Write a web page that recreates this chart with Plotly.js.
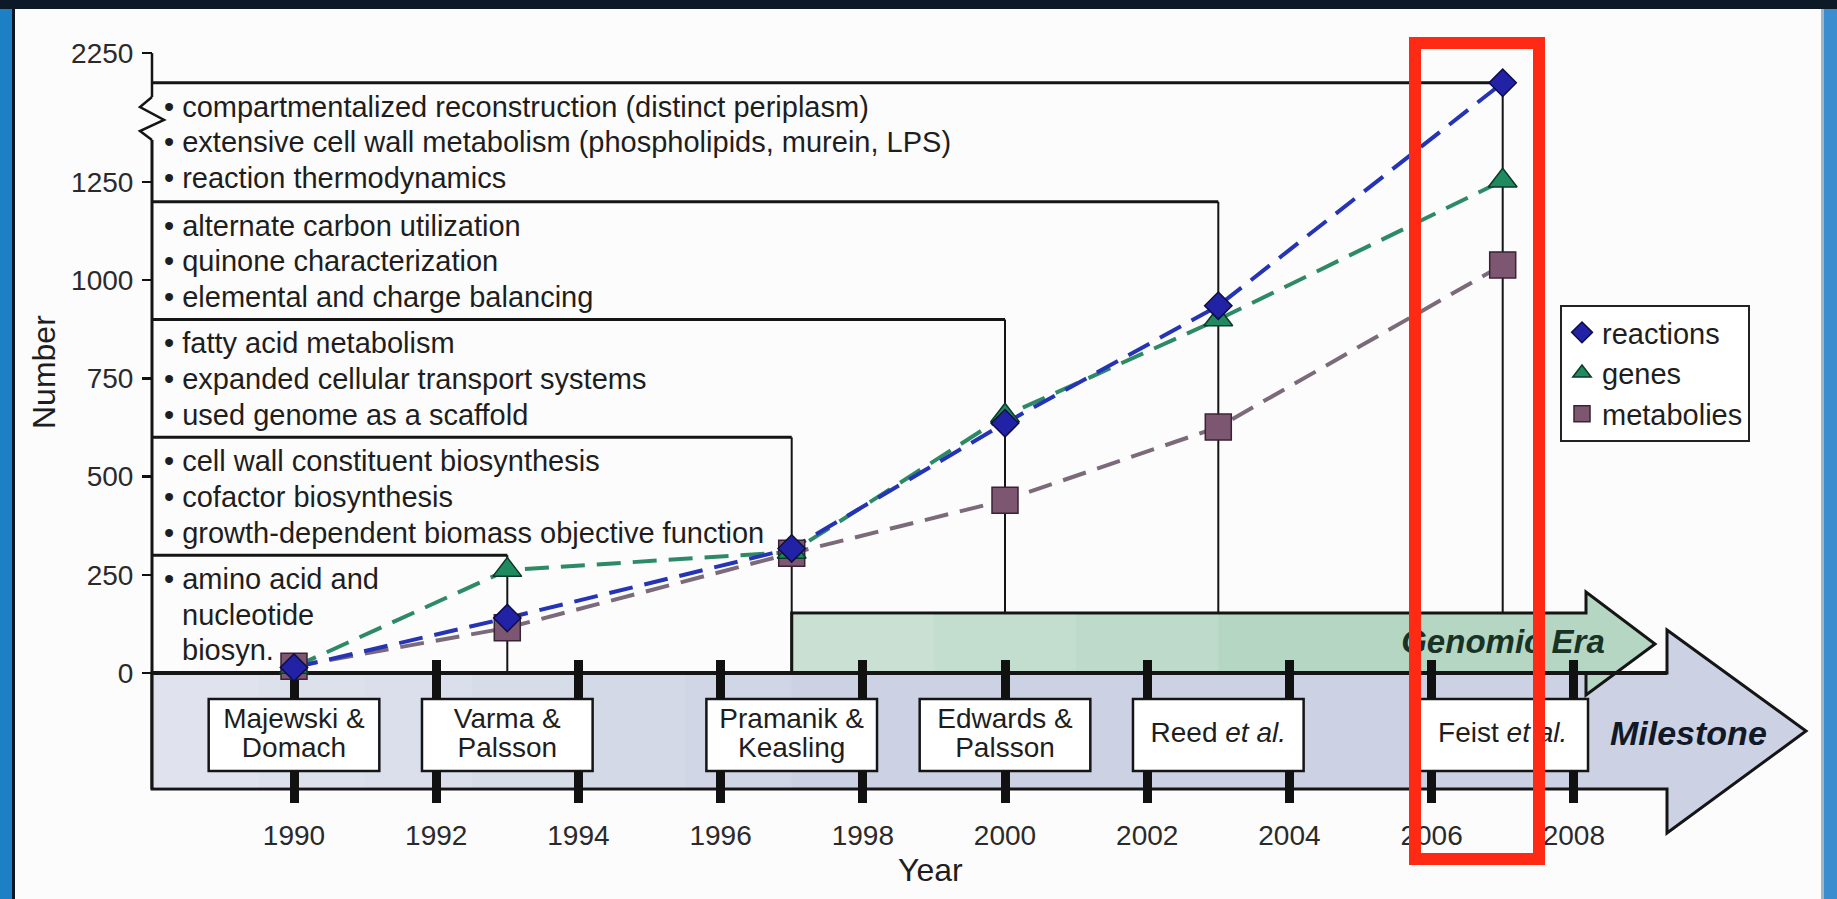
<!DOCTYPE html>
<html>
<head>
<meta charset="utf-8">
<script src="https://cdn.plot.ly/plotly-3.0.1.min.js"></script>
<style>html,body{margin:0;padding:0;background:#fcfcfc;overflow:hidden}</style>
</head>
<body>
<div id="chart" style="width:1837px;height:899px"></div>
<script>
// ---------------- data ----------------
const years = [1990, 1993, 1997, 2000, 2003, 2007];
const reactions = [14, 140, 317, 636, 935, 2020];
const genes = [15, 262, 308, 655, 900, 1260];
const metabolites = [17, 115, 305, 440, 626, 1039];
const seriesNames = ['reactions', 'genes', 'metabolies'];

const milestoneLine1 = ['Majewski &', 'Varma &', 'Pramanik &', 'Edwards &', 'Reed <i>et al.</i>', 'Feist <i>et al.</i>'];
const milestoneLine2 = ['Domach', 'Palsson', 'Keasling', 'Palsson', '', ''];

const yTickValues = [0, 250, 500, 750, 1000, 1250, 2250];
const yearTicks = [1990, 1992, 1994, 1996, 1998, 2000, 2002, 2004, 2006, 2008];

// feature boxes, bottom (oldest) to top (newest)
const features1 = ['amino acid and', 'nucleotide', 'biosyn.'];
const bullets1 = [true, false, false];
const features2 = ['cell wall constituent biosynthesis', 'cofactor biosynthesis', 'growth-dependent biomass objective function'];
const features3 = ['fatty acid metabolism', 'expanded cellular transport systems', 'used genome as a scaffold'];
const features4 = ['alternate carbon utilization', 'quinone characterization', 'elemental and charge balancing'];
const features5 = ['compartmentalized reconstruction (distinct periplasm)', 'extensive cell wall metabolism (phospholipids, murein, LPS)', 'reaction thermodynamics'];
const boxEnds = [1993, 1997, 2000, 2003, 2007];
const boxTops = [300, 600, 900, 1200, reactions[5]];
const genomicStart = 1997;

// ---------------- scale helpers ----------------
const W = 1837, H = 899;
const X_PX_1990 = 294, PX_PER_YEAR = 71.1, Y_PX_ZERO = 673, PX_PER_UNIT = 0.3928;
const BREAK = 1250, COMPRESS = 0.328;          // broken y axis above 1250
const brk = v => v <= BREAK ? v : BREAK + (v - BREAK) * COMPRESS;
const px2x = px => 1990 + (px - X_PX_1990) / PX_PER_YEAR;
const py2y = py => (Y_PX_ZERO - py) / PX_PER_UNIT;
const y2py = d => Y_PX_ZERO - d * PX_PER_UNIT;
const xRange = [px2x(0), px2x(W)];
const yRange = [py2y(H), py2y(0)];
const AX_X = px2x(152);   // = 1988

const FONT = 'Liberation Sans, Arial, Helvetica, sans-serif';
const TXT = '#1e1e1e';

// ---------------- shapes ----------------
const shapes = [];
const seg = (x0, y0, x1, y1, w, c) => ({type: 'line', xref: 'x', yref: 'y', x0, y0, x1, y1,
  line: {color: c || '#151515', width: w || 3}, layer: 'below'});
const prect = (x0, x1, y0, y1, c) => ({type: 'rect', xref: 'paper', yref: 'paper',
  x0: x0 / W, x1: x1 / W, y0: 1 - y1 / H, y1: 1 - y0 / H, fillcolor: c, line: {width: 0}, layer: 'below'});

// slide frame
shapes.push(prect(0, 12, 0, H, '#1c80c4'));
shapes.push(prect(12, 15, 0, H, '#0b1622'));
shapes.push(prect(1824, W, 0, H, '#3a8dcf'));
shapes.push(prect(1821, 1824, 0, H, '#9fb6c8'));
shapes.push(prect(0, W, 0, 9, '#0c1927'));

// feature boxes: top edges and right edges
boxEnds.forEach((yr, i) => {
  const top = brk(boxTops[i]);
  const bottom = yr > genomicStart ? py2y(613) : 0;
  shapes.push(seg(AX_X, top, yr, top, 3));
  shapes.push(seg(yr, top, yr, bottom, 2));
});

// y axis line with break zig-zag
shapes.push(seg(AX_X, brk(2250), AX_X, py2y(97), 2.5));
shapes.push({type: 'path', xref: 'x', yref: 'y', layer: 'below', line: {color: '#151515', width: 2.5},
  path: 'M' + px2x(152) + ',' + py2y(97) + ' L' + px2x(140) + ',' + py2y(107) + ' L' + px2x(164) + ',' + py2y(120) +
        ' L' + px2x(140) + ',' + py2y(131) + ' L' + px2x(152) + ',' + py2y(140)});
shapes.push(seg(AX_X, py2y(140), AX_X, py2y(789), 3));

// milestone arrow
const mbTop = 0, mbBot = py2y(789), mbEnd = px2x(1667);
shapes.push({type: 'path', xref: 'x', yref: 'y', layer: 'below', fillcolor: '#ccd2e3',
  line: {color: '#151515', width: 3},
  path: `M${AX_X},${mbTop} L${mbEnd},${mbTop} L${mbEnd},${py2y(630)} L${px2x(1806)},${py2y(731)} L${mbEnd},${py2y(833)} L${mbEnd},${mbBot} L${AX_X},${mbBot} Z`});
// soft lighter fade on the left of the milestone band
[1989.5, 1991, 1992.5, 1994, 1995.5, 1997].forEach(xe => {
  shapes.push({type: 'rect', xref: 'x', yref: 'y', layer: 'below', x0: AX_X + 0.03, x1: xe, y0: mbBot + 4, y1: mbTop - 5,
    fillcolor: 'rgba(255,255,255,0.09)', line: {width: 0}});
});

// genomic era arrow
const gTop = py2y(613), gEnd = px2x(1586);
shapes.push({type: 'path', xref: 'x', yref: 'y', layer: 'below', fillcolor: '#b6d6c4',
  line: {color: '#151515', width: 3},
  path: `M${genomicStart},0 L${genomicStart},${gTop} L${gEnd},${gTop} L${gEnd},${py2y(592)} L${px2x(1655)},${py2y(644)} L${gEnd},${py2y(695)} L${gEnd},0 Z`});
[1999, 2001, 2003].forEach(xe => {
  shapes.push({type: 'rect', xref: 'x', yref: 'y', layer: 'below', x0: genomicStart + 0.03, x1: xe, y0: 4, y1: gTop - 4,
    fillcolor: 'rgba(255,255,255,0.1)', line: {width: 0}});
});
// zero line across the timeline
shapes.push(seg(AX_X, 0, mbEnd, 0, 4));

// milestone boxes
years.forEach(yr => {
  shapes.push({type: 'rect', xref: 'x', yref: 'y', layer: 'below', x0: yr - 1.2, x1: yr + 1.2,
    y0: py2y(771), y1: py2y(699), fillcolor: '#ffffff', line: {color: '#151515', width: 2.5}});
});

// red highlight
shapes.push({type: 'rect', xref: 'paper', yref: 'paper', layer: 'above',
  x0: 1415 / W, x1: 1539 / W, y0: 1 - 859 / H, y1: 1 - 43 / H,
  fillcolor: 'rgba(0,0,0,0)', line: {color: '#ff2a14', width: 12}});

// ---------------- traces ----------------
const series = [
  {name: seriesNames[2], y: metabolites, line: '#7b6a79', fill: '#7d5772', edge: '#3a2333', symbol: 'square', size: 26, rank: 3},
  {name: seriesNames[1], y: genes, line: '#2e8a66', fill: '#1f8a5f', edge: '#0b3a27', symbol: 'triangle-up', size: 25, rank: 2},
  {name: seriesNames[0], y: reactions, line: '#2534b5', fill: '#2222a6', edge: '#0e0e45', symbol: 'diamond', size: 21, rank: 1}
];
const traces = [];
series.forEach(s => traces.push({
  type: 'scatter', mode: 'lines', x: years, y: s.y.map(brk), showlegend: false, hoverinfo: 'skip',
  line: {color: s.line, width: 4, dash: '24px,12px'}
}));
series.forEach(s => traces.push({
  type: 'scatter', mode: 'markers', name: s.name, legendrank: s.rank, x: years, y: s.y.map(brk),
  marker: {symbol: s.symbol, size: s.size, color: s.fill, line: {color: s.edge, width: 1.5}},
  hovertext: s.y.map(String), hoverinfo: 'x+text+name'
}));

// milestone labels (on the overlaying axis so its ticks get a subplot)
const twoLine = milestoneLine2.map(t => t !== '');
traces.push({type: 'scatter', mode: 'text', xaxis: 'x2', yaxis: 'y', showlegend: false, hoverinfo: 'skip', cliponaxis: false,
  x: years, y: twoLine.map(t => py2y(t ? 721 : 735)), text: milestoneLine1,
  textposition: 'middle center', textfont: {family: FONT, size: 28, color: TXT}});
traces.push({type: 'scatter', mode: 'text', xaxis: 'x2', yaxis: 'y', showlegend: false, hoverinfo: 'skip', cliponaxis: false,
  x: years, y: twoLine.map(() => py2y(750)), text: milestoneLine2,
  textposition: 'middle center', textfont: {family: FONT, size: 28, color: TXT}});
// genomic era label (kept under the red highlight)
traces.push({type: 'scatter', mode: 'text', showlegend: false, hoverinfo: 'skip', cliponaxis: false,
  x: [px2x(1503)], y: [py2y(645)], text: ['<b><i>Genomic Era</i></b>'],
  textposition: 'middle center', textfont: {family: FONT, size: 33, color: '#183226'}});

// ---------------- annotations ----------------
const annotations = [];
const groups = [
  {lines: features1, bullets: bullets1},
  {lines: features2, bullets: [true, true, true]},
  {lines: features3, bullets: [true, true, true]},
  {lines: features4, bullets: [true, true, true]},
  {lines: features5, bullets: [true, true, true]}
];
groups.forEach((g, i) => {
  const topPx = y2py(brk(boxTops[i]));
  g.lines.forEach((t, j) => {
    const cy = topPx + 24 + 35.6 * j;
    annotations.push({xref: 'x', yref: 'y', x: px2x(g.bullets[j] ? 162 : 180), y: py2y(cy),
      xanchor: 'left', yanchor: 'middle', showarrow: false, text: (g.bullets[j] ? '\u2022 ' : '') + t,
      font: {family: FONT, size: 29, color: TXT}});
  });
});
annotations.push({xref: 'paper', yref: 'paper', x: 44 / W, y: 1 - 372 / H, xanchor: 'center', yanchor: 'middle',
  textangle: -90, showarrow: false, text: 'Number', font: {family: FONT, size: 32, color: TXT}});
annotations.push({xref: 'paper', yref: 'paper', x: 930 / W, y: 1 - 870 / H, xanchor: 'center', yanchor: 'middle',
  showarrow: false, text: 'Year', font: {family: FONT, size: 32, color: TXT}});
annotations.push({xref: 'paper', yref: 'paper', x: 1688 / W, y: 1 - 733 / H, xanchor: 'center', yanchor: 'middle',
  showarrow: false, text: '<b><i>Milestone</i></b>', font: {family: FONT, size: 34, color: '#111828'}});

// ---------------- layout ----------------
const layout = {
  width: W, height: H,
  margin: {l: 0, r: 0, t: 0, b: 0, pad: 0, autoexpand: false},
  paper_bgcolor: '#fcfcfc', plot_bgcolor: 'rgba(0,0,0,0)',
  font: {family: FONT, color: TXT},
  showlegend: true,
  xaxis: {range: xRange, anchor: 'free', position: 1 - 803 / H, tickvals: yearTicks, ticktext: yearTicks.map(String),
    ticks: 'inside', ticklen: 32, tickwidth: 9, tickcolor: '#111', showline: false, showgrid: false, zeroline: false,
    tickfont: {family: FONT, size: 28, color: '#2a2a2a'}, ticklabelstandoff: 13, layer: 'below traces', fixedrange: true},
  xaxis2: {range: xRange, overlaying: 'x', anchor: 'free', position: 1 - 699 / H, tickvals: yearTicks,
    ticks: 'inside', ticklen: 39, tickwidth: 9, tickcolor: '#111', showticklabels: false, showline: false,
    showgrid: false, zeroline: false, layer: 'below traces', fixedrange: true},
  yaxis: {range: yRange, anchor: 'free', position: 152 / W, tickvals: yTickValues.map(brk), ticktext: yTickValues.map(String),
    ticks: 'outside', ticklen: 10, tickwidth: 2.5, tickcolor: '#111', showline: false, showgrid: false, zeroline: false,
    tickfont: {family: FONT, size: 28, color: '#2a2a2a'}, ticklabelstandoff: 3, fixedrange: true},
  legend: {x: 1560 / W, y: 1 - 305 / H, xanchor: 'left', yanchor: 'top', bgcolor: '#ffffff', bordercolor: '#222',
    borderwidth: 2, font: {family: FONT, size: 29, color: TXT}, tracegroupgap: 0, itemclick: false, itemdoubleclick: false},
  shapes: shapes,
  annotations: annotations
};

Plotly.newPlot('chart', traces, layout, {displayModeBar: false, staticPlot: true});
</script>
</body>
</html>
